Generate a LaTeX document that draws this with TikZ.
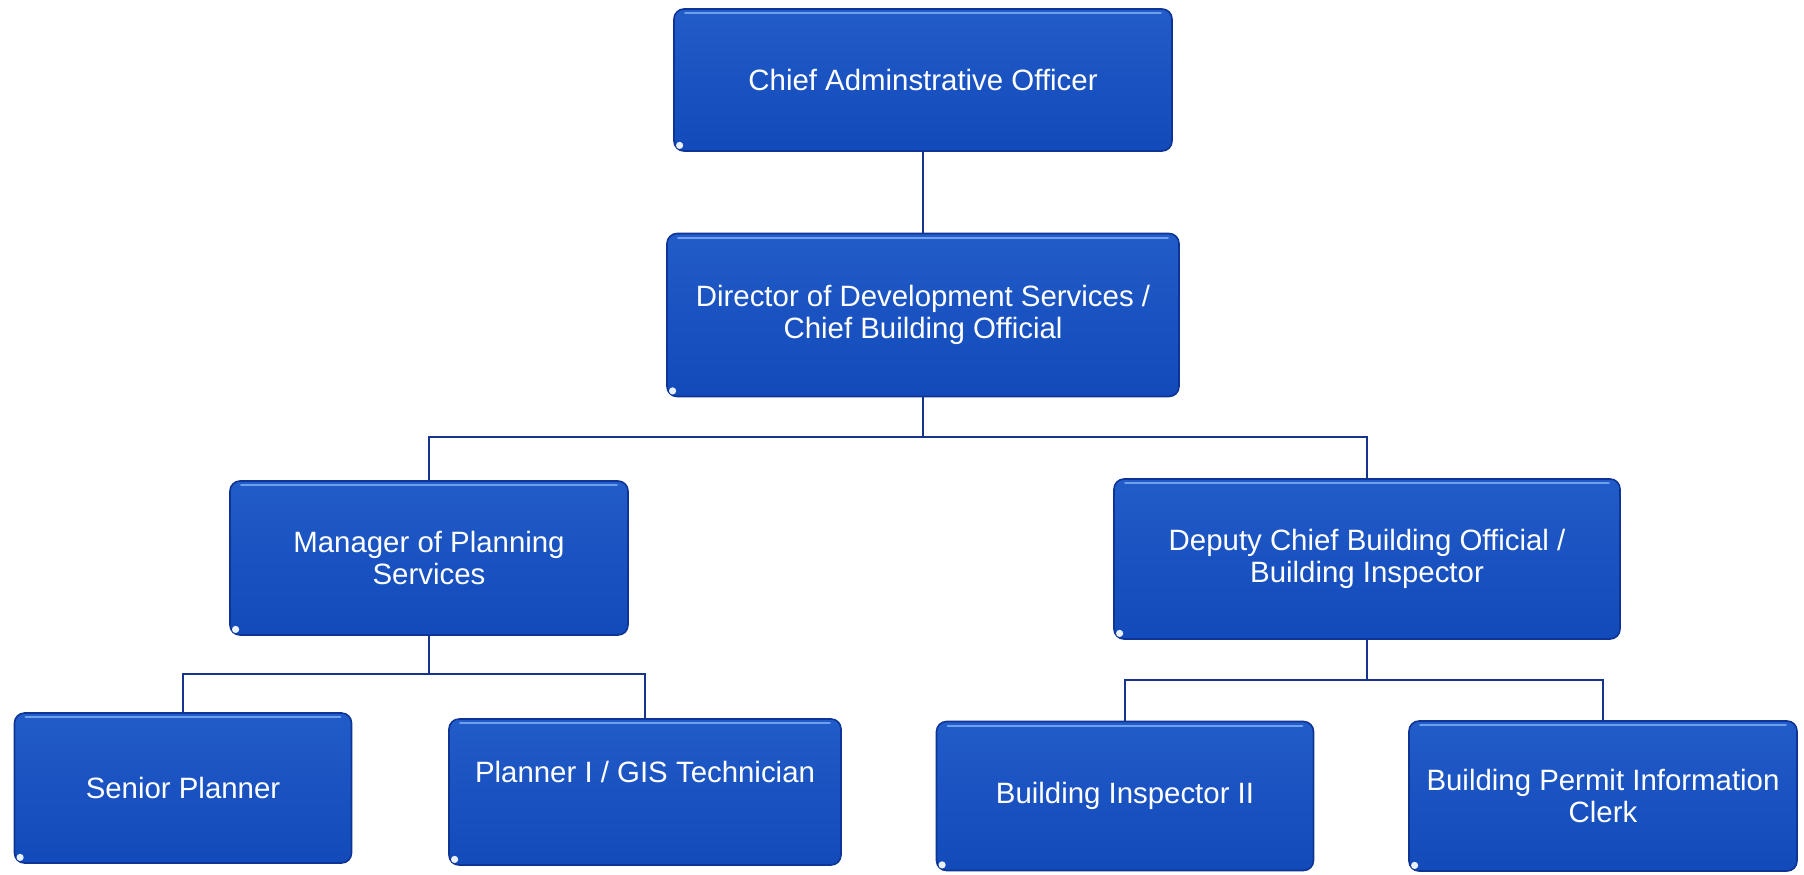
\documentclass[tikz,border=0pt]{standalone}
\usepackage{fontspec}
\setmainfont{Liberation Sans}
\definecolor{boxtop}{RGB}{34,92,200}
\definecolor{boxbot}{RGB}{18,74,186}
\definecolor{boxedge}{RGB}{14,52,150}
\definecolor{linecol}{RGB}{22,52,140}
\definecolor{gloss}{RGB}{110,160,235}
\tikzset{
  orgbox/.style={rectangle, rounded corners=5pt, draw=boxedge, line width=0.8pt,
    top color=boxtop, bottom color=boxbot, text=white, align=center, inner sep=0pt,
    font=\fontsize{14.7}{16}\selectfont},
  conn/.style={draw=linecol, line width=1pt},
  glossline/.style={draw=gloss, line width=1.2pt, line cap=round},
  cornermark/.style={fill=white!85!gloss}
}
\begin{document}
\begin{tikzpicture}[x=0.5pt,y=-0.5pt]
\fill[white] (0,0) rectangle (1804,874);
\useasboundingbox (0,0) rectangle (1804,874);

\node[orgbox, minimum width=249pt, minimum height=71pt] (top) at (923,80) {Chief Adminstrative Officer};
\node[orgbox, minimum width=256pt, minimum height=81.5pt] (dir) at (923,315) {Director of Development Services /\\Chief Building Official};
\node[orgbox, minimum width=199pt, minimum height=77pt] (mgr) at (429,558) {Manager of Planning\\Services};
\node[orgbox, minimum width=253pt, minimum height=80pt] (dep) at (1367,559) {Deputy Chief Building Official /\\Building Inspector};
\node[orgbox, minimum width=168.5pt, minimum height=75pt] (sp) at (183,788) {Senior Planner};
\node[orgbox, minimum width=196pt, minimum height=73pt] (p1) at (645,792) {\raisebox{10pt}[\height][\depth]{Planner I / GIS Technician}};
\node[orgbox, minimum width=188.5pt, minimum height=74.5pt] (bi) at (1125,796) {Building Inspector II};
\node[orgbox, minimum width=194pt, minimum height=75pt] (clk) at (1603,796) {Building Permit Information\\Clerk};

\foreach \n in {top,dir,mgr,dep,sp,p1,bi,clk}{
  \draw[glossline] ([xshift=6pt,yshift=-2.5pt]\n.north west) -- ([xshift=-6pt,yshift=-2.5pt]\n.north east);
  \fill[cornermark] ([xshift=3.2pt,yshift=3.2pt]\n.south west) circle (1.8pt);
}

\coordinate (j1) at (923,437);
\coordinate (j2) at (429,674);
\coordinate (j3) at (1367,680);

\draw[conn] (top.south) -- (dir.north);
\draw[conn] (dir.south) -- (j1);
\draw[conn] (mgr.north) |- (j1) -| (dep.north);
\draw[conn] (mgr.south) -- (j2);
\draw[conn] (sp.north) |- (j2) -| (p1.north);
\draw[conn] (dep.south) -- (j3);
\draw[conn] (bi.north) |- (j3) -| (clk.north);
\end{tikzpicture}
\end{document}
